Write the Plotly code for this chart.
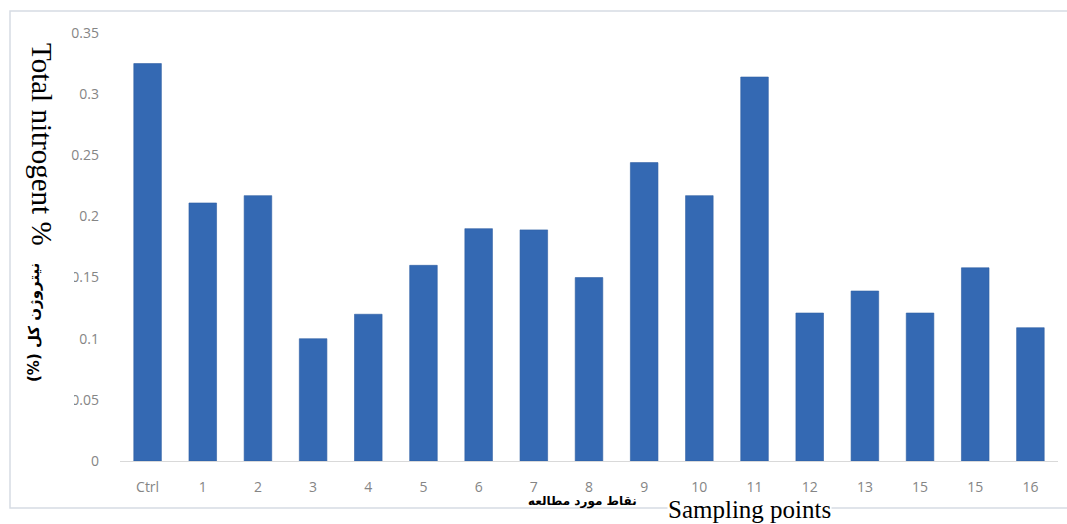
import plotly.graph_objects as go

# ---- data ----
categories = ["Ctrl", "1", "2", "3", "4", "5", "6", "7", "8", "9", "10",
              "11", "12", "13", "15", "15", "16"]
nitrogen = [0.325, 0.211, 0.217, 0.100, 0.120, 0.160, 0.190, 0.189, 0.150,
            0.244, 0.217, 0.314, 0.121, 0.139, 0.121, 0.158, 0.109]
y_ticks = [0, 0.05, 0.1, 0.15, 0.2, 0.25, 0.3, 0.35]
y_tick_text = ["0", "0.05", "0.1", "0.15", "0.2", "0.25", "0.3", "0.35"]

W, H = 1067, 524
ML, MR, MT, MB = 120, 9, 33, 63
PW, PH = W - ML - MR, H - MT - MB


def px(x):
    return (x - ML) / PW


def py(y):
    return (H - MB - y) / PH


positions = list(range(len(categories)))

fig = go.Figure()
fig.add_trace(go.Bar(
    x=positions, y=nitrogen,
    marker=dict(color="#3469b3", line=dict(color="#2d5ea3", width=0.6)),
    width=0.5,
    showlegend=False,
))

tick_font = dict(family="Open Sans, Lato, sans-serif", size=14, color="#858585")

RLM = "\u200f"

fig.update_layout(
    width=W, height=H,
    margin=dict(l=ML, r=MR, t=MT, b=MB),
    paper_bgcolor="white", plot_bgcolor="white",
    xaxis=dict(
        range=[-0.5, len(categories) - 0.5],
        tickvals=positions, ticktext=categories,
        showgrid=False, zeroline=False,
        showline=True, linecolor="#d9d9d9", linewidth=1,
        ticks="", tickfont=tick_font, ticklabelstandoff=13,
        fixedrange=True,
    ),
    yaxis=dict(
        range=[0, 0.35],
        tickvals=y_ticks, ticktext=y_tick_text,
        showgrid=False, zeroline=False, showline=False,
        ticks="", tickfont=tick_font, ticklabelstandoff=20,
        fixedrange=True,
    ),
    shapes=[
        # outer frame
        dict(type="rect", xref="paper", yref="paper",
             x0=px(10), x1=px(1080), y0=py(508), y1=py(11),
             line=dict(color="#d6dce4", width=1.5), layer="below"),
        # white mask behind persian y title
        dict(type="rect", xref="paper", yref="paper",
             x0=px(14), x1=px(74), y0=py(405), y1=py(258),
             fillcolor="white", line=dict(width=0), layer="above"),
    ],
    annotations=[
        dict(text="Total nitrogent %", xref="paper", yref="paper",
             x=px(42), y=py(144), showarrow=False, textangle=90,
             xanchor="center", yanchor="middle",
             font=dict(family="Liberation Serif, Times New Roman, serif",
                       size=29, color="black")),
        dict(text="<b>" + RLM + "نیتروژن کل (%)" + RLM + "</b>",
             xref="paper", yref="paper",
             x=px(34), y=py(323), showarrow=False, textangle=-90,
             xanchor="center", yanchor="middle",
             font=dict(family="DejaVu Sans, sans-serif", size=15,
                       color="black")),
        dict(text="<b>نقاط مورد مطالعه</b>", xref="paper", yref="paper",
             x=px(582), y=py(502), showarrow=False,
             xanchor="center", yanchor="middle",
             font=dict(family="DejaVu Sans, sans-serif", size=12,
                       color="black")),
        dict(text="Sampling points", xref="paper", yref="paper",
             x=px(749), y=py(510), showarrow=False,
             xanchor="center", yanchor="middle", bgcolor="white",
             borderpad=0,
             font=dict(family="Liberation Serif, Times New Roman, serif",
                       size=25, color="black")),
    ],
)

fig.write_html("out.html")
